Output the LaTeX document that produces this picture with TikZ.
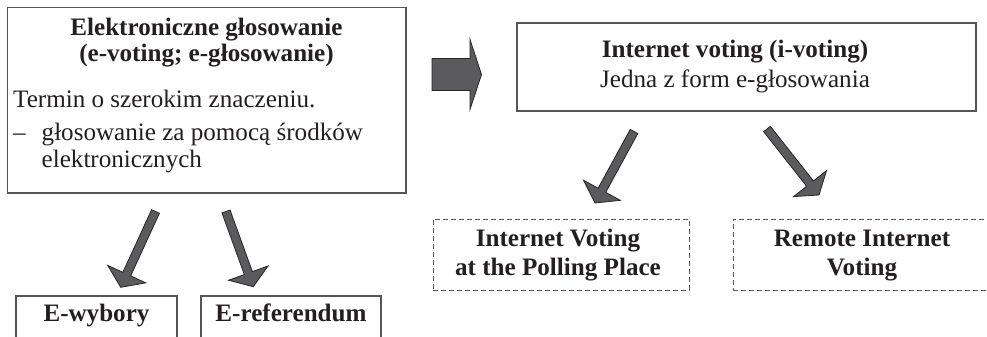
\documentclass[tikz,border=0pt]{standalone}
\usepackage{fontspec}
\setmainfont{Liberation Serif}
\usetikzlibrary{calc}
\definecolor{arrowfill}{HTML}{5B5B5D}
\definecolor{boxline}{HTML}{555555}
\definecolor{txt}{HTML}{231F20}
\tikzset{
  box/.style={draw=boxline, line width=1.2pt, inner sep=0pt, outer sep=0pt, anchor=north west},
  dbox/.style={draw=boxline, line width=1pt, dash pattern=on 5pt off 3pt, inner sep=0pt, outer sep=0pt, anchor=north west},
  lbl/.style={inner sep=0pt, anchor=base, text=txt, font=\fontsize{25.1}{28}\selectfont},
  lblw/.style={lbl, anchor=base west},
  blbl/.style={lbl, font=\fontsize{25.1}{28}\selectfont\bfseries},
  blockarrow/.style={draw=black!85, line width=0.8pt, fill=arrowfill, line join=miter},
}
% #1 start, #2 tip, #3 half shaft width, #4 half head width, #5 head length
\newcommand\blockarr[5]{%
  \coordinate (ba-n) at ($(#2)!#5!(#1)$);
  \draw[blockarrow] ($(#1)!#3!90:(#2)$) -- ($(ba-n)!#3!90:(#2)$) -- ($(ba-n)!#4!90:(#2)$)
    -- (#2) -- ($(ba-n)!#4!-90:(#2)$) -- ($(ba-n)!#3!-90:(#2)$) -- ($(#1)!#3!-90:(#2)$) -- cycle;
}
\begin{document}
\begin{tikzpicture}[x=1pt, y=-1pt]
\useasboundingbox (0,0) rectangle (987,337);
\clip (0,0) rectangle (987,337);

% boxes
\node[box, minimum width=398.5pt, minimum height=185.5pt] (big) at (7.5,7.5) {};
\node[box, minimum width=459pt, minimum height=88pt] (ivote) at (517,23) {};
\node[box, minimum width=161pt, minimum height=60pt] (ewyb) at (16,296) {};
\node[box, minimum width=180pt, minimum height=60pt] (eref) at (201,296) {};
\node[dbox, minimum width=256pt, minimum height=71pt] (poll) at (433,219) {};
\node[dbox, minimum width=262pt, minimum height=71pt] (remote) at (733,219) {};

% texts
\node[blbl] (t1) at (206.5,36) {Elektroniczne głosowanie};
\node[blbl] (t2) at (206.5,62) {(e-voting; e-głosowanie)};
\node[lblw] (b1) at (13,107) {Termin o szerokim znaczeniu.};
\node[lblw] (b2) at (13,140) {–};
\node[lblw] (b3) at (41.5,140) {głosowanie za pomocą środków};
\node[lblw] (b4) at (41.5,167) {elektronicznych};

\node[blbl] (i1) at (735,57) {Internet voting (i-voting)};
\node[lbl] (i2) at (735,87) {Jedna z form e-głosowania};

\node[blbl] (p1) at (558,246.5) {Internet Voting};
\node[blbl] (p2) at (558,275) {at the Polling Place};
\node[blbl] (r1) at (862,246.5) {Remote Internet};
\node[blbl] (r2) at (862,275) {Voting};

\node[blbl] (w1) at (96.5,321.7) {E-wybory};
\node[blbl] (e1) at (291,321.7) {E-referendum};

% arrow end points
\coordinate (h-s) at (432,74.5);
\coordinate (h-t) at (481.5,74.5);
\coordinate (a1-s) at (155.5,211.5);
\coordinate (a1-t) at (120.7,287.3);
\coordinate (a2-s) at (226,211.5);
\coordinate (a2-t) at (253.3,286.7);
\coordinate (a3-s) at (634,131.5);
\coordinate (a3-t) at (595,203);
\coordinate (a4-s) at (767,129);
\coordinate (a4-t) at (819,195);

\blockarr{h-s}{h-t}{16pt}{35pt}{11.5pt}
\blockarr{a1-s}{a1-t}{4.3pt}{21pt}{14.5pt}
\blockarr{a2-s}{a2-t}{4.3pt}{21pt}{14.5pt}
\blockarr{a3-s}{a3-t}{4.3pt}{21pt}{14.5pt}
\blockarr{a4-s}{a4-t}{4.3pt}{21pt}{14.5pt}
\end{tikzpicture}
\end{document}
